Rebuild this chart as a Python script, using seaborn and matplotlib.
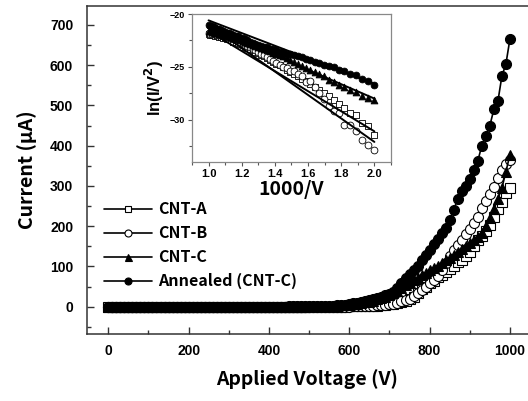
import numpy as np
import pandas as pd
import matplotlib
matplotlib.use("Agg")
import matplotlib.pyplot as plt
from matplotlib.ticker import MultipleLocator
import seaborn as sns

sns.set_theme(style="ticks")
plt.rcParams['font.family'] = ['Liberation Sans', 'DejaVu Sans']
plt.rcParams['font.weight'] = 'bold'
plt.rcParams['axes.labelweight'] = 'bold'
plt.rcParams['mathtext.default'] = 'bf'
for k in ['text.color', 'axes.labelcolor', 'xtick.color', 'ytick.color']:
    plt.rcParams[k] = 'black'

# ---------------- main data (Applied Voltage, Current in uA) ----------------
voltage = np.arange(0, 1001, 10)

cnt_a = ([0] * 41 +
         [0, 0, 0, 0, 0.01, 0.01, 0.02, 0.02, 0.03] +
         [0.04, 0.05, 0.06, 0.08, 0.1, 0.13, 0.17, 0.22, 0.28, 0.35] +
         [0.45, 0.6, 0.8, 1.0, 1.3, 1.7, 2.2, 2.8, 3.5, 4.4] +
         [5.5, 6.8, 8.4, 10.5, 13, 18, 25, 35, 43, 50] +
         [58, 65, 73, 79, 85, 94, 102, 110, 117, 126] +
         [137, 150, 165, 176, 189, 204, 222, 243, 260, 283] +
         [296])

cnt_b = ([0] * 41 +
         [0, 0, 0, 0, 0.01, 0.01, 0.02, 0.02, 0.03] +
         [0.03, 0.04, 0.05, 0.07, 0.09, 0.12, 0.15, 0.2, 0.25, 0.32] +
         [0.4, 0.55, 0.75, 1.0, 1.4, 1.9, 2.5, 3.2, 4.0, 5.0] +
         [6.2, 7.8, 10, 13, 16, 20, 26, 33, 41, 50] +
         [58, 67, 77, 91, 108, 127, 140, 153, 166, 180] +
         [193, 208, 224, 245, 262, 280, 297, 320, 340, 355] +
         [365])

cnt_c = ([0] * 31 +
         [0, 0, 0, 0.05, 0.05, 0.05, 0.1, 0.1, 0.1, 0.1] +
         [0.15, 0.15, 0.2, 0.2, 0.25, 0.3, 0.3, 0.35, 0.4] +
         [0.5, 0.6, 0.8, 1.0, 1.3, 1.6, 2.0, 2.5, 3.1, 3.8] +
         [4.7, 5.8, 7.2, 8.8, 10.5, 12.5, 15, 18, 21, 25] +
         [29, 34, 40, 47, 54, 60, 66, 72, 78, 84] +
         [90, 96, 102, 108, 115, 122, 129, 136, 143, 150] +
         [158, 166, 174, 182, 200, 220, 242, 268, 295, 335] +
         [378])

annealed = ([0] * 31 +
            [0.05, 0.05, 0.1, 0.1, 0.1, 0.15, 0.15, 0.2, 0.2, 0.25] +
            [0.3, 0.3, 0.35, 0.4, 0.45, 0.5, 0.55, 0.6, 0.7] +
            [0.8, 1.0, 1.3, 1.6, 1.9, 2.3, 2.8, 3.5, 4.3, 5.2] +
            [7.4, 8.6, 10, 11.5, 13.5, 16, 19, 22, 25, 28] +
            [32, 37, 46, 58, 70, 80, 90, 101, 115, 128] +
            [142, 155, 168, 182, 196, 215, 240, 268, 287, 300] +
            [318, 340, 362, 400, 425, 450, 490, 510, 573, 603] +
            [665])

labels = ["CNT-A", "CNT-B", "CNT-C", "Annealed (CNT-C)"]

# ---------------- inset data (F-N plot) ----------------
fn_voltage = np.arange(1000, 499, -10)
fn_x = 1000.0 / fn_voltage

fn_annealed = [-21.0, -21.1, -21.15, -21.2, -21.3, -21.4, -21.4, -21.5, -21.6, -21.7,
               -21.75, -21.8, -21.9, -22.0, -22.05, -22.1, -22.25, -22.3, -22.4, -22.5,
               -22.6, -22.7, -22.8, -22.9, -23.0, -23.1, -23.15, -23.3, -23.35, -23.45,
               -23.55, -23.6, -23.75, -23.8, -23.9, -24.0, -24.1, -24.25, -24.35, -24.5,
               -24.6, -24.8, -24.9, -25.0, -25.3, -25.4, -25.7, -25.8, -26.1, -26.3, -26.7]
fn_cnt_c = [-21.6, -21.6, -21.7, -21.7, -21.8, -21.8, -21.9, -21.9, -21.95, -22.0,
            -22.05, -22.1, -22.2, -22.25, -22.3, -22.4, -22.45, -22.55, -22.6, -22.7,
            -22.8, -22.9, -23.0, -23.1, -23.2, -23.3, -23.4, -23.5, -23.65, -23.75,
            -23.9, -24.0, -24.2, -24.35, -24.5, -24.7, -24.9, -25.1, -25.3, -25.5,
            -25.7, -25.9, -26.2, -26.4, -26.7, -26.9, -27.2, -27.4, -27.8, -27.9, -28.1]
fn_cnt_a = [-21.9, -21.95, -22.0, -22.0, -22.05, -22.1, -22.15, -22.2, -22.25, -22.3,
            -22.35, -22.4, -22.5, -22.6, -22.65, -22.75, -22.85, -22.95, -23.1, -23.2,
            -23.3, -23.45, -23.55, -23.7, -23.85, -24.0, -24.15, -24.35, -24.5, -24.7,
            -24.85, -25.05, -25.25, -25.45, -25.65, -25.85, -26.1, -26.35, -26.6, -26.9,
            -27.15, -27.45, -27.8, -28.1, -28.5, -28.9, -29.4, -29.6, -30.3, -30.6, -31.4]
fn_cnt_b = [-21.8, -21.85, -21.85, -21.9, -21.9, -21.95, -22.0, -22.0, -22.05, -22.1,
            -22.15, -22.2, -22.3, -22.35, -22.45, -22.55, -22.65, -22.75, -22.9, -23.0,
            -23.15, -23.3, -23.45, -23.6, -23.75, -23.9, -24.1, -24.3, -24.4, -24.6,
            -24.8, -25.0, -25.1, -25.4, -25.4, -25.7, -25.9, -26.4, -26.3, -26.9,
            -27.5, -28.0, -28.7, -29.2, -29.4, -30.5, -30.5, -31.1, -31.9, -32.4, -32.9]

fit_x = [1.0, 2.0]
fit_annealed = [-20.6, -26.6]
fit_cnt_c = [-21.2, -28.0]
fit_cnt_a = [-21.6, -31.1]
fit_cnt_b = [-21.0, -32.1]

# ---------------- styles ----------------
styles = [
    dict(marker='s', markerfacecolor='white', markeredgecolor='black', markersize=6.5),
    dict(marker='o', markerfacecolor='white', markeredgecolor='black', markersize=7.2),
    dict(marker='^', markerfacecolor='black', markeredgecolor='black', markersize=7.2),
    dict(marker='o', markerfacecolor='black', markeredgecolor='black', markersize=7.2),
]

fig = plt.figure(figsize=(5.28, 4.01), dpi=100)
ax = fig.add_axes([0.1648, 0.167, 0.8352, 0.819])

series = [cnt_a, cnt_b, cnt_c, annealed]
for lab, ys, st in zip(labels, series, styles):
    df = pd.DataFrame({"V": voltage, "I": ys})
    sns.lineplot(data=df, x="V", y="I", ax=ax, color="black", linewidth=1.2,
                 markeredgewidth=0.8, label=lab, **st)

ax.set_xlim(-53, 1045)
ax.set_ylim(-68, 748)
ax.xaxis.set_major_locator(MultipleLocator(200))
ax.xaxis.set_minor_locator(MultipleLocator(100))
ax.yaxis.set_major_locator(MultipleLocator(100))
ax.yaxis.set_minor_locator(MultipleLocator(50))
ax.tick_params(which='both', direction='in', color='#333333', width=1.0,
               labelsize=10, labelcolor='black')
ax.tick_params(which='major', length=5)
ax.tick_params(which='minor', length=3)
ax.tick_params(axis='y', pad=10)
ax.tick_params(axis='x', pad=7)
for lbl in ax.get_xticklabels() + ax.get_yticklabels():
    lbl.set_fontweight('heavy')
for s in ['left', 'bottom', 'top']:
    ax.spines[s].set_color('#333333')
    ax.spines[s].set_linewidth(1.1)
ax.spines['right'].set_visible(False)

label_font = ['Noto Sans CJK KR', 'DejaVu Sans']
ax.set_xlabel("Applied Voltage (V)", fontsize=14, fontweight='bold', family=label_font, labelpad=8)
ax.set_ylabel("Current (μA)", fontsize=14, fontweight='bold', family=label_font, labelpad=9)

leg = ax.legend(loc='upper left', bbox_to_anchor=(0.005, 0.448), frameon=False,
                prop=dict(family=label_font, weight='bold', size=11.5),
                handlelength=3.0, handletextpad=0.4, labelspacing=0.5, markerscale=0.7)

# ---------------- inset ----------------
axi = fig.add_axes([0.3636, 0.596, 0.3769, 0.369])
axi.set_facecolor('white')
fn_series = [fn_cnt_a, fn_cnt_b, fn_cnt_c, fn_annealed]
inset_styles = [
    dict(marker='s', fc='white'),
    dict(marker='o', fc='white'),
    dict(marker='^', fc='black'),
    dict(marker='o', fc='black'),
]
for ys, st in zip(fn_series, inset_styles):
    dfi = pd.DataFrame({"x": fn_x, "y": ys})
    sns.scatterplot(data=dfi, x="x", y="y", ax=axi, s=24, linewidth=0.6,
                    marker=st['marker'], facecolor=st['fc'],
                    edgecolor='black', zorder=2)
for fy in [fit_annealed, fit_cnt_c, fit_cnt_a, fit_cnt_b]:
    sns.lineplot(x=fit_x, y=fy, ax=axi, color='black', linewidth=1.4, zorder=3)

axi.set_xlim(0.9, 2.1)
axi.set_ylim(-34, -20)
axi.xaxis.set_major_locator(MultipleLocator(0.2))
axi.xaxis.set_minor_locator(MultipleLocator(0.1))
axi.yaxis.set_major_locator(MultipleLocator(5))
axi.yaxis.set_minor_locator(MultipleLocator(2.5))
axi.tick_params(which='both', direction='out', color='#555555', width=0.8, labelcolor='black')
axi.tick_params(which='major', length=3)
axi.tick_params(which='minor', length=2)
axi.tick_params(axis='y', pad=2, labelsize=6.5)
axi.tick_params(axis='x', pad=2, labelsize=8)
for s in axi.spines.values():
    s.set_color('#888888'); s.set_linewidth(0.9)
axi.set_xlabel("1000/V", fontsize=14, fontweight='bold', family=label_font, labelpad=1)
axi.set_ylabel("ln(I/V$^2$)", fontsize=12, fontweight='bold', labelpad=3)
leg_i = axi.get_legend()
if leg_i is not None:
    leg_i.remove()

fig.savefig("out.png", dpi=100)
